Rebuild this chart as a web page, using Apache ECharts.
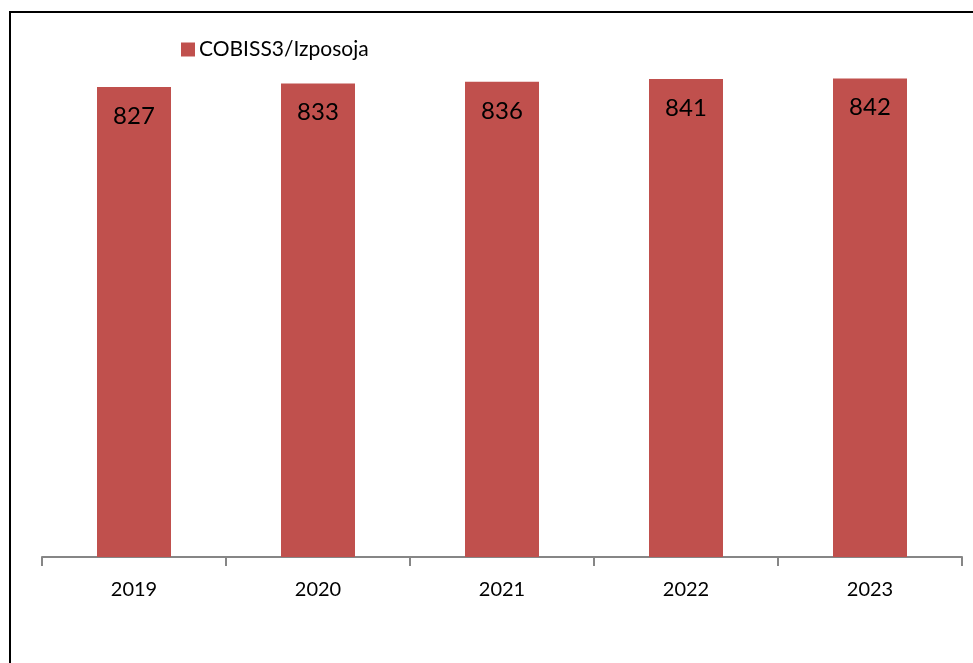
<!DOCTYPE html>
<html>
<head>
<meta charset="utf-8">
<script src="https://cdn.jsdelivr.net/npm/echarts@6/dist/echarts.min.js"></script>
<style>
html,body{margin:0;padding:0;background:#fff;}
#c{width:973px;height:663px;}
</style>
</head>
<body>
<div id="c"></div>
<script>
const categories = ['2019', '2020', '2021', '2022', '2023'];
const seriesName = 'COBISS3/Izposoja';
const values = [827, 833, 836, 841, 842];

const chart = echarts.init(document.getElementById('c'));
const FONT = 'Lato';
chart.setOption({
  animation: false,
  backgroundColor: '#fff',
  textStyle: { fontFamily: FONT },
  graphic: [{
    type: 'rect',
    shape: { x: 10, y: 12, width: 1200, height: 1200 },
    style: { fill: 'none', stroke: '#000', lineWidth: 2 },
    silent: true
  }],
  legend: {
    left: 176, top: 34,
    itemWidth: 14, itemHeight: 14, itemGap: 6,
    icon: 'rect',
    textStyle: { fontSize: 21, color: '#000', fontFamily: FONT, padding: [0, 0, 0, -1] },
    data: [seriesName]
  },
  grid: { left: 42, right: 11, top: 45.5, bottom: 106 },
  xAxis: {
    type: 'category',
    data: categories,
    axisLine: { show: true, lineStyle: { color: '#868686', width: 2 } },
    axisTick: { show: true, interval: 0, alignWithLabel: false, length: 9, lineStyle: { color: '#868686', width: 2 } },
    axisLabel: { fontSize: 20, color: '#000', margin: 23, fontFamily: FONT }
  },
  yAxis: {
    type: 'value', min: 0, max: 900,
    show: false,
    splitLine: { show: false }
  },
  series: [{
    name: seriesName,
    type: 'bar',
    data: values,
    barWidth: 74,
    itemStyle: { color: '#C0504D' },
    label: {
      show: true, position: 'insideTop', distance: 17,
      fontSize: 24, color: '#000', fontFamily: FONT
    }
  }]
});
</script>
</body>
</html>
